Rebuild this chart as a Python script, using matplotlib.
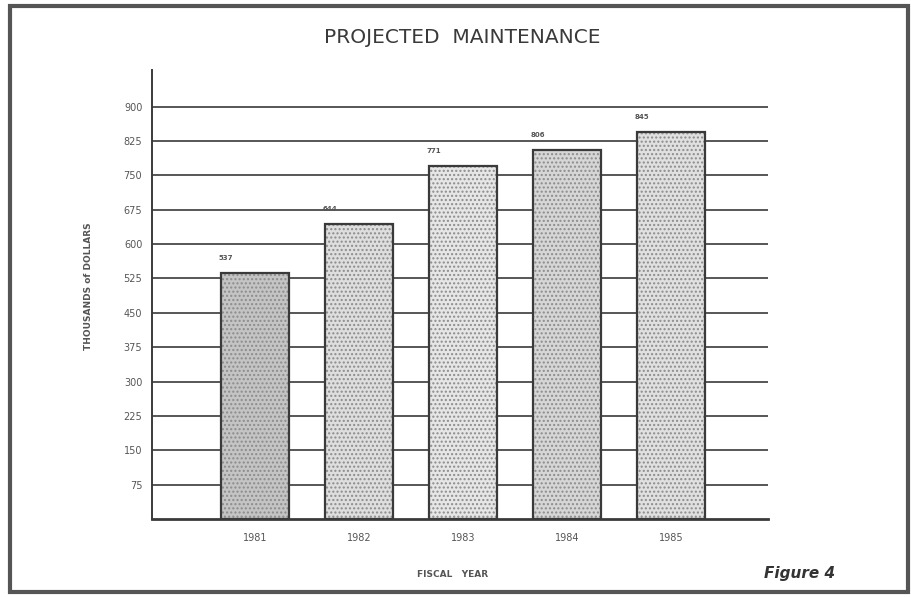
import matplotlib.pyplot as plt
from matplotlib.patches import Rectangle

# --- DATA ---
years = ["1981", "1982", "1983", "1984", "1985"]
values = [537, 644, 771, 806, 845]
y_ticks = [75, 150, 225, 300, 375, 450, 525, 600, 675, 750, 825, 900]

TITLE = "PROJECTED  MAINTENANCE"
X_LABEL = "FISCAL   YEAR"
Y_LABEL = "THOUSANDS of DOLLARS"

INK = "#3a3a3a"
TEXT = "#555555"

fig = plt.figure(figsize=(9.12, 5.97), dpi=100)
fig.patch.set_facecolor("white")

# page frame
fig.patches.append(Rectangle((0.011, 0.008), 0.985, 0.982, transform=fig.transFigure,
                             fill=False, edgecolor="#555555", linewidth=3))

ax = fig.add_axes([0.1667, 0.1307, 0.675, 0.752])
x = list(range(len(years)))

# horizontal rules
for t in y_ticks:
    ax.axhline(t, color=INK, linewidth=1.2, zorder=1)

fills = ["#c4c4c4", "#dedede", "#e6e6e6", "#d6d6d6", "#e0e0e0"]
bars = ax.bar(x, values, width=0.65, color=fills, edgecolor=INK,
              linewidth=1.6, hatch="....", zorder=2)
for b in bars:
    b._hatch_color = (0.55, 0.55, 0.55, 1.0)

# value labels
for xi, v in zip(x, values):
    ax.text(xi - 0.28, v + 33, str(v), fontsize=5, color=TEXT,
            ha="center", va="center", fontweight="bold")

ax.set_xlim(-0.99, 4.93)
ax.set_ylim(0, 980)
ax.set_yticks(y_ticks)
ax.set_yticklabels([str(t) for t in y_ticks])
ax.set_xticks(x)
ax.set_xticklabels(years)
ax.tick_params(axis="both", length=0, labelsize=7, colors=TEXT)
ax.tick_params(axis="y", pad=7)
ax.tick_params(axis="x", pad=10)

for side in ["top", "right"]:
    ax.spines[side].set_visible(False)
ax.spines["left"].set_color(INK)
ax.spines["left"].set_linewidth(1.4)
ax.spines["bottom"].set_color(INK)
ax.spines["bottom"].set_linewidth(2)

fig.text(0.507, 0.937, TITLE, ha="center", va="center", fontsize=14.5,
         color="#3a3a3a")
fig.text(0.097, 0.52, Y_LABEL, rotation=90, ha="center", va="center",
         fontsize=6.5, color=TEXT, fontweight="bold")
fig.text(0.496, 0.037, X_LABEL, ha="center", va="center", fontsize=6.5,
         color=TEXT, fontweight="bold")
fig.text(0.877, 0.04, "Figure 4", ha="center", va="center", fontsize=11,
         color="#333333", style="italic", fontweight="bold")

fig.savefig("out.png", dpi=100)
